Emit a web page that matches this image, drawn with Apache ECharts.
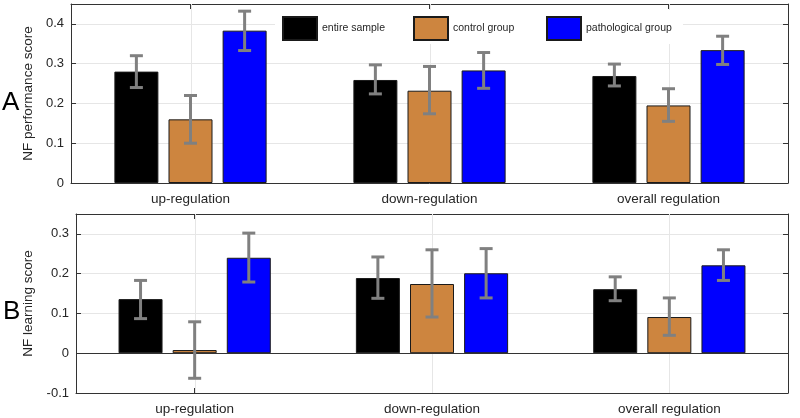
<!DOCTYPE html>
<html>
<head>
<meta charset="utf-8">
<script src="https://cdn.jsdelivr.net/npm/echarts@6/dist/echarts.min.js"></script>
<style>
html,body{margin:0;padding:0;background:#fff;}
#c{width:800px;height:418px;}
</style>
</head>
<body>
<div id="c"></div>
<script>
// ---- data ----
var categories = ['up-regulation', 'down-regulation', 'overall regulation'];
var groupNames = ['entire sample', 'control group', 'pathological group'];
var groupColors = ['#000000', '#CD853F', '#0000FF'];

// Panel A: NF performance score
var perfEntire = [0.280, 0.259, 0.269];
var perfControl = [0.160, 0.232, 0.195];
var perfPatho = [0.383, 0.283, 0.334];
var perfEntireLow = [0.240, 0.224, 0.244];
var perfEntireHigh = [0.320, 0.297, 0.299];
var perfControlLow = [0.100, 0.174, 0.155];
var perfControlHigh = [0.220, 0.293, 0.237];
var perfPathoLow = [0.333, 0.238, 0.298];
var perfPathoHigh = [0.432, 0.328, 0.369];

// Panel B: NF learning score
var learnEntire = [0.136, 0.189, 0.161];
var learnControl = [0.008, 0.174, 0.091];
var learnPatho = [0.240, 0.201, 0.221];
var learnEntireLow = [0.087, 0.138, 0.132];
var learnEntireHigh = [0.183, 0.242, 0.192];
var learnControlLow = [-0.063, 0.091, 0.045];
var learnControlHigh = [0.079, 0.260, 0.139];
var learnPathoLow = [0.179, 0.139, 0.183];
var learnPathoHigh = [0.302, 0.263, 0.260];

// ---- styling constants ----
var FONT = 'Liberation Sans, Arial, Helvetica, sans-serif';
var AX = '#333333';
var TXT = '#262626';
var GRIDC = '#e6e6e6';
var BAR_W = 44;
var BAR_GAP = 0.23;

function errData(lo, hi) {
  return lo.map(function (v, i) { return [i, v, hi[i]]; });
}

function errSeries(k, lo, hi, xi, yi) {
  var off = (k - 1) * BAR_W * (1 + BAR_GAP);
  return {
    type: 'custom',
    xAxisIndex: xi, yAxisIndex: yi,
    z: 6, silent: true,
    encode: { x: 0, y: [1, 2] },
    data: errData(lo, hi),
    renderItem: function (params, api) {
      var c = api.value(0);
      var p1 = api.coord([c, api.value(1)]);
      var p2 = api.coord([c, api.value(2)]);
      var x = p1[0] + off;
      var cap = 6.5;
      var st = { stroke: '#808080', lineWidth: 3 };
      return {
        type: 'group',
        children: [
          { type: 'line', shape: { x1: x, y1: p1[1], x2: x, y2: p2[1] }, style: st },
          { type: 'line', shape: { x1: x - cap, y1: p1[1], x2: x + cap, y2: p1[1] }, style: st },
          { type: 'line', shape: { x1: x - cap, y1: p2[1], x2: x + cap, y2: p2[1] }, style: st }
        ]
      };
    }
  };
}

function barSeries(k, vals, xi, yi) {
  return {
    name: groupNames[k],
    type: 'bar',
    xAxisIndex: xi, yAxisIndex: yi,
    barWidth: BAR_W,
    barGap: (BAR_GAP * 100) + '%',
    data: vals,
    itemStyle: { color: groupColors[k], borderColor: '#1a1a1a', borderWidth: 1 },
    z: 3
  };
}

// vertical grid lines at category centres, drawn behind the bars
function vGrid(xi, yi) {
  return {
    type: 'custom',
    xAxisIndex: xi, yAxisIndex: yi,
    z: 1, silent: true,
    encode: { x: 0 },
    data: categories.map(function (c, i) { return [i]; }),
    renderItem: function (params, api) {
      var cs = params.coordSys;
      var x = Math.round(api.coord([api.value(0), 0])[0]) + 0.5;
      return {
        type: 'line',
        shape: { x1: x, y1: cs.y, x2: x, y2: cs.y + cs.height },
        style: { stroke: GRIDC, lineWidth: 1 }
      };
    }
  };
}

function xAxes(gi, top) {
  return {
    gridIndex: gi, type: 'category', data: categories,
    position: top ? 'top' : 'bottom',
    axisLine: { show: true, onZero: false, lineStyle: { color: AX, width: 1 } },
    axisTick: { show: true, inside: true, alignWithLabel: true, length: 5, lineStyle: { color: AX } },
    axisLabel: top ? { show: false } : { show: true, fontSize: 13.5, color: TXT, margin: 9, fontFamily: FONT },
    splitLine: { show: false }
  };
}

function yAxes(gi, right, mn, mx, name, gap) {
  return {
    gridIndex: gi, type: 'value', min: mn, max: mx, interval: 0.1,
    position: right ? 'right' : 'left',
    name: right ? '' : name,
    nameLocation: 'middle', nameGap: gap, nameRotate: 90,
    nameTextStyle: { fontSize: 13.5, color: TXT, fontFamily: FONT },
    axisLine: { show: true, onZero: false, lineStyle: { color: AX, width: 1 } },
    axisTick: { show: true, inside: true, length: 5, lineStyle: { color: AX } },
    axisLabel: right ? { show: false } : { show: true, fontSize: 13, color: TXT, margin: 7, showMaxLabel: false, fontFamily: FONT },
    splitLine: { show: !right, lineStyle: { color: GRIDC, width: 1 } }
  };
}

var series = [
  vGrid(0, 0),
  barSeries(0, perfEntire, 0, 0),
  barSeries(1, perfControl, 0, 0),
  barSeries(2, perfPatho, 0, 0),
  errSeries(0, perfEntireLow, perfEntireHigh, 0, 0),
  errSeries(1, perfControlLow, perfControlHigh, 0, 0),
  errSeries(2, perfPathoLow, perfPathoHigh, 0, 0),
  vGrid(2, 2),
  barSeries(0, learnEntire, 2, 2),
  barSeries(1, learnControl, 2, 2),
  barSeries(2, learnPatho, 2, 2),
  errSeries(0, learnEntireLow, learnEntireHigh, 2, 2),
  errSeries(1, learnControlLow, learnControlHigh, 2, 2),
  errSeries(2, learnPathoLow, learnPathoHigh, 2, 2),
  {
    type: 'line', xAxisIndex: 2, yAxisIndex: 2, data: [], z: 4, silent: true,
    markLine: {
      silent: true, symbol: 'none', animation: false, label: { show: false },
      lineStyle: { color: AX, type: 'solid', width: 1 },
      data: [{ yAxis: 0 }]
    }
  }
];

function legendItem(k, left, bg, padRight) {
  return {
    data: [groupNames[k]],
    left: left, top: 10,
    icon: 'rect',
    itemWidth: 34, itemHeight: 23,
    selectedMode: false,
    backgroundColor: bg ? '#ffffff' : 'transparent',
    padding: [6, padRight, 3, 7],
    textStyle: { fontSize: 10.5, color: TXT, fontFamily: FONT },
    z: bg ? 9 : 10
  };
}

var option = {
  animation: false,
  backgroundColor: '#ffffff',
  textStyle: { fontFamily: FONT },
  title: [
    { text: 'A', left: 2, top: 90, padding: 0, textStyle: { fontSize: 26, fontWeight: 'normal', color: '#000', fontFamily: FONT } },
    { text: 'B', left: 3, top: 299, padding: 0, textStyle: { fontSize: 26, fontWeight: 'normal', color: '#000', fontFamily: FONT } }
  ],
  legend: [
    legendItem(0, 275, true, 298),
    legendItem(1, 406, false, 0),
    legendItem(2, 539, false, 0)
  ],
  grid: [
    { left: 71, right: 12, top: 4, height: 179 },
    { left: 76, right: 12, top: 214, height: 179 }
  ],
  xAxis: [xAxes(0, false), xAxes(0, true), xAxes(1, false), xAxes(1, true)],
  yAxis: [
    yAxes(0, false, 0, 0.45, 'NF performance score', 34),
    yAxes(0, true, 0, 0.45, '', 0),
    yAxes(1, false, -0.1, 0.35, 'NF learning score', 39),
    yAxes(1, true, -0.1, 0.35, '', 0)
  ],
  series: series
};

var chart = echarts.init(document.getElementById('c'), null, { renderer: 'canvas' });
chart.setOption(option);
</script>
</body>
</html>
